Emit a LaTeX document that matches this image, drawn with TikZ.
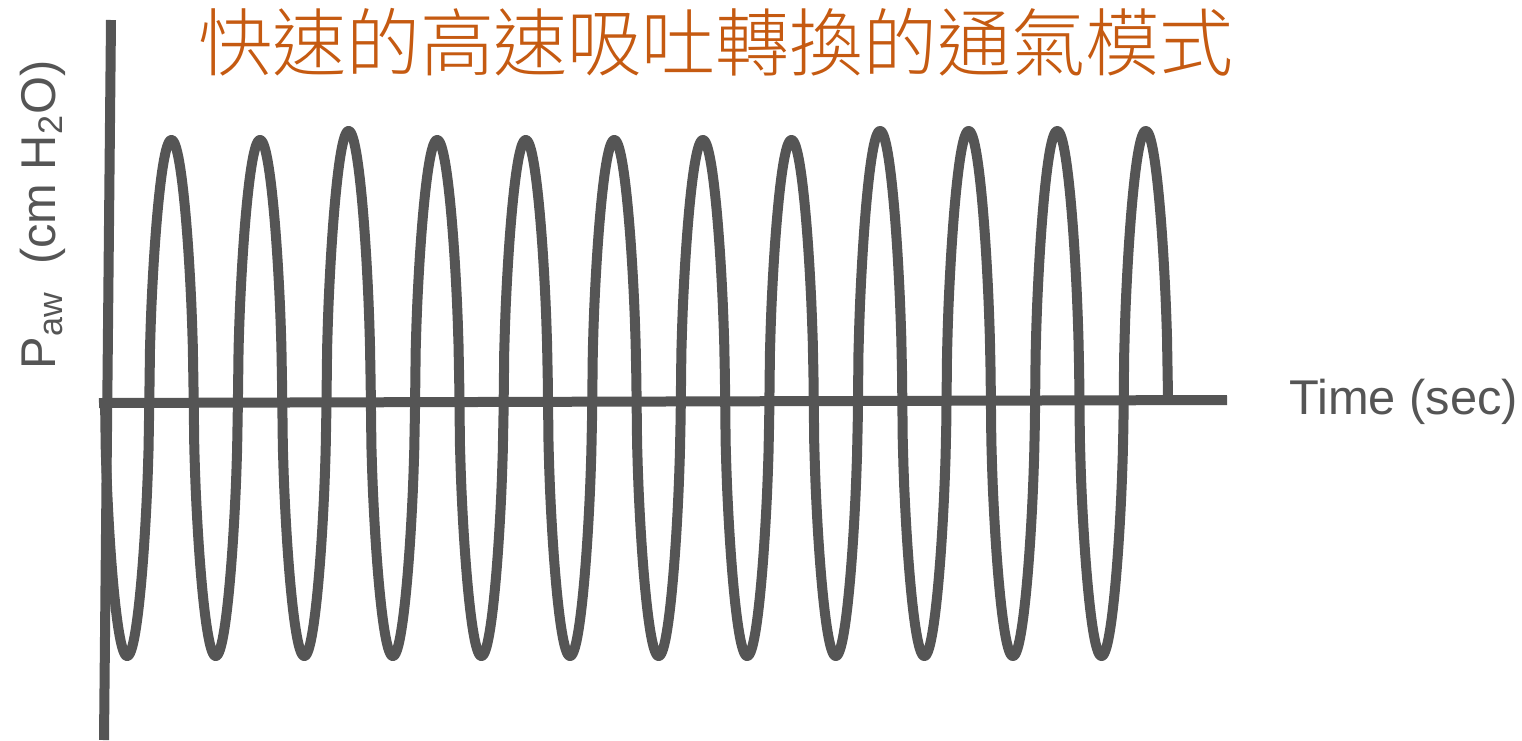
\documentclass[tikz,border=0pt]{standalone}
\usepackage{fontspec}
\setmainfont{Liberation Sans}
\newfontfamily\cjk{Noto Sans CJK TC}[UprightFont={* Light}]
\definecolor{wavegray}{RGB}{85,85,85}
\definecolor{titleorange}{RGB}{197,90,17}
\tikzset{
  axisline/.style={draw=wavegray,line width=5pt},
  waveline/.style={draw=wavegray,line width=5pt,line join=round},
  axislabel/.style={text=wavegray,inner sep=0pt,font=\fontsize{24.4}{28}\selectfont}
}

\begin{document}
\begin{tikzpicture}[x=0.5pt,y=-0.5pt]
	\useasboundingbox (0,0) rectangle (1522,740);
	% axes
	\coordinate (ytop) at (111,20);
	\coordinate (ybot) at (104,740);
	\coordinate (xleft) at (99,403);
	\coordinate (xright) at (1227,400);
	\coordinate (waveend) at (1168,396);
	\draw[axisline] (ytop) -- (ybot);
	\draw[axisline] (xleft) -- (xright);
	% oscillation, twelve cycles (peaks 3 and 9-12 a little higher)
	\draw[waveline] plot[domain=0:11.995,samples=1440]
	  ({105+88.58*\x},{398+sign(sin(360*\x))*pow(abs(sin(360*\x))+0.00001,0.55)*(sin(360*\x)>0 ? 258 : (258+9*((floor(\x)==2)||(floor(\x)>7))))})
	  -- (waveend);
	% labels
	\node[axislabel,anchor=base west] (timelabel) at (1289,414) {Time (sec)};
	\node[axislabel,anchor=base,rotate=90] (pawlabel) at (55,215) {P\textsubscript{aw}\ \ (cm H\textsubscript{2}O)};
	\node[inner sep=0pt,anchor=base,text=titleorange,font=\cjk\fontsize{37}{40}\selectfont] (title) at (716,70) {快速的高速吸吐轉換的通氣模式};
\end{tikzpicture}
\end{document}
